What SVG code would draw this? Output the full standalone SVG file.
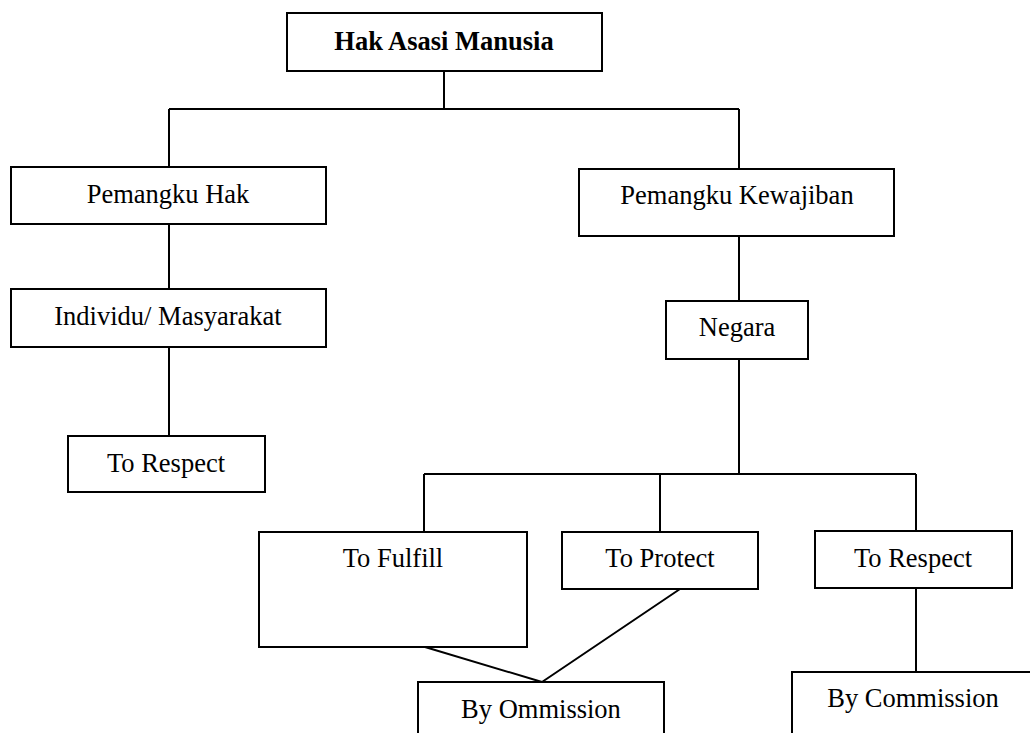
<svg xmlns="http://www.w3.org/2000/svg" width="1030" height="733" viewBox="0 0 1030 733">
<style>
.box{fill:#fff;stroke:#000;stroke-width:2}
.ln{fill:none;stroke:#000;stroke-width:2}
text{font-family:"Liberation Serif","Times New Roman",serif;font-size:26.5px;fill:#000;text-anchor:middle}
.b{font-weight:bold}
</style>
<rect width="1030" height="733" fill="#fff"/>
<g id="connectors">
<path class="ln" d="M444 71V109M169 109H739M169 109V167M739 109V169"/>
<path class="ln" d="M169 224V289M169 347V436"/>
<path class="ln" d="M739 236V301M739 359V474M424 474H916M424 474V532M660 474V532M916 474V531"/>
<path class="ln" d="M916 588V672"/>
<path class="ln" d="M425 647L542 682M680 589L542 682"/>
</g>
<g id="hak-asasi-manusia"><rect class="box" x="287" y="13" width="315" height="58"/><text class="b" x="444" y="50">Hak Asasi Manusia</text></g>
<g id="pemangku-hak"><rect class="box" x="11" y="167" width="315" height="57"/><text x="168" y="203">Pemangku Hak</text></g>
<g id="individu"><rect class="box" x="11" y="289" width="315" height="58"/><text x="168" y="325">Individu/ Masyarakat</text></g>
<g id="to-respect-left"><rect class="box" x="68" y="436" width="197" height="56"/><text x="166" y="472">To Respect</text></g>
<g id="pemangku-kewajiban"><rect class="box" x="579" y="169" width="315" height="67"/><text x="737" y="204">Pemangku Kewajiban</text></g>
<g id="negara"><rect class="box" x="666" y="301" width="142" height="58"/><text x="737" y="336">Negara</text></g>
<g id="to-fulfill"><rect class="box" x="259" y="532" width="268" height="115"/><text x="393" y="567">To Fulfill</text></g>
<g id="to-protect"><rect class="box" x="562" y="532" width="196" height="57"/><text x="660" y="567">To Protect</text></g>
<g id="to-respect-right"><rect class="box" x="815" y="531" width="197" height="57"/><text x="913" y="567">To Respect</text></g>
<g id="by-ommission"><rect class="box" x="418" y="682" width="246" height="60"/><text x="541" y="718">By Ommission</text></g>
<g id="by-commission"><rect class="box" x="792" y="672" width="250" height="70"/><text x="913" y="707">By Commission</text></g>
</svg>
